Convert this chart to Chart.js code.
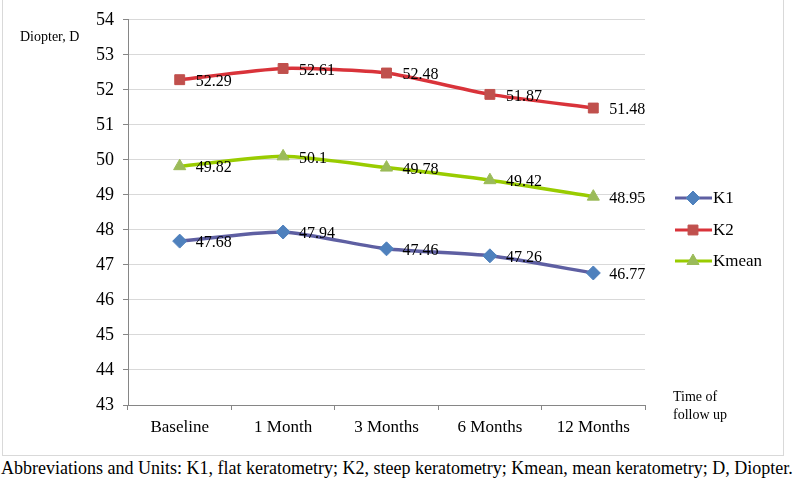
<!DOCTYPE html>
<html>
<head>
<meta charset="utf-8">
<script src="https://cdn.jsdelivr.net/npm/chart.js@4.4.0/dist/chart.umd.min.js"></script>
<style>
  body { margin: 0; background: #fff; }
  #box { position: absolute; left: 2px; top: 0; width: 780px; height: 455px; border: 1px solid #d9d9d9; border-top: none; }
  #wrap { position: absolute; left: 0; top: 0; width: 795px; height: 458px; }
  #caption { position: absolute; left: 1px; top: 458px; font-family: "Liberation Serif", "Times New Roman", serif; font-size: 18px; color: #000; white-space: nowrap; }
</style>
</head>
<body>
<div id="box"></div>
<div id="wrap"><canvas id="chart" width="795" height="458"></canvas></div>
<div id="caption">Abbreviations and Units: K1, flat keratometry; K2, steep keratometry; Kmean, mean keratometry; D, Diopter.</div>
<script>
// chart data
var timepoints = ['Baseline', '1 Month', '3 Months', '6 Months', '12 Months'];
var k1Values = [47.68, 47.94, 47.46, 47.26, 46.77];
var k2Values = [52.29, 52.61, 52.48, 51.87, 51.48];
var kmeanValues = [49.82, 50.1, 49.78, 49.42, 48.95];
var yTicks = [43, 44, 45, 46, 47, 48, 49, 50, 51, 52, 53, 54];

var serif = '"Liberation Serif", "Times New Roman", serif';

// value labels next to points, legend and axis captions
var extrasPlugin = {
    id: 'extras',
    afterDatasetsDraw: function(chart) {
        var ctx = chart.ctx;
        ctx.save();
        ctx.font = '16px ' + serif;
        ctx.fillStyle = '#000';
        ctx.textBaseline = 'middle';
        ctx.textAlign = 'left';
        chart.data.datasets.forEach(function(ds, i) {
            var meta = chart.getDatasetMeta(i);
            meta.data.forEach(function(pt, j) {
                ctx.fillText(String(ds.data[j]), pt.x + 16, pt.y + 2);
            });
        });

        // legend
        var ly = [198, 230, 261];
        chart.data.datasets.forEach(function(ds, i) {
            var y = ly[i];
            ctx.strokeStyle = ds.borderColor;
            ctx.lineWidth = 3;
            ctx.beginPath();
            ctx.moveTo(675, y);
            ctx.lineTo(712, y);
            ctx.stroke();
            ctx.fillStyle = ds.pointBackgroundColor;
            ctx.strokeStyle = ds.pointBorderColor;
            ctx.lineWidth = 1;
            Chart.helpers.drawPoint(ctx, {pointStyle: ds.pointStyle, radius: ds.pointRadius, borderWidth: 1}, 693, y);
            ctx.fillStyle = '#000';
            ctx.font = '17px ' + serif;
            ctx.fillText(ds.label, 713, y + 1);
        });

        ctx.font = '14px ' + serif;
        ctx.fillText('Diopter, D', 20, 37);
        ctx.fillText('Time of', 673, 397);
        ctx.fillText('follow up', 673, 415);
        ctx.restore();
    }
};

function drawChart() {
    var ctx = document.getElementById('chart').getContext('2d');
    new Chart(ctx, {
        type: 'line',
        data: {
            labels: timepoints,
            datasets: [{
                label: 'K1',
                data: k1Values,
                borderColor: '#5e5fa2',
                pointBackgroundColor: '#4f81bd',
                pointBorderColor: '#4f81bd',
                pointStyle: 'rectRot',
                pointRadius: 7
            }, {
                label: 'K2',
                data: k2Values,
                borderColor: '#d9333a',
                pointBackgroundColor: '#c0504d',
                pointBorderColor: '#c0504d',
                pointStyle: 'rect',
                pointRadius: 7
            }, {
                label: 'Kmean',
                data: kmeanValues,
                borderColor: '#99cc00',
                pointBackgroundColor: '#9bbb59',
                pointBorderColor: '#9bbb59',
                pointStyle: 'triangle',
                pointRadius: 7
            }]
        },
        options: {
            responsive: false,
            animation: false,
            devicePixelRatio: 1,
            layout: { padding: { left: 0, right: 150, top: 16, bottom: 13 } },
            elements: {
                line: { borderWidth: 3.5, tension: 0.2 },
                point: { borderWidth: 1 }
            },
            plugins: {
                legend: { display: false },
                tooltip: { enabled: false }
            },
            scales: {
                x: {
                    offset: true,
                    afterFit: function(s) { s.height = 40; },
                    grid: { offset: true, drawOnChartArea: false, tickLength: 5, color: '#868686' },
                    border: { color: '#868686' },
                    ticks: { color: '#000', font: { family: serif, size: 17 }, padding: 7, maxRotation: 0 }
                },
                y: {
                    min: 43,
                    max: 54,
                    afterFit: function(s) { s.width = 128; },
                    afterBuildTicks: function(s) { s.ticks = yTicks.map(function(v) { return { value: v }; }); },
                    grid: { color: '#d9d9d9', tickLength: 5, tickColor: '#868686' },
                    border: { color: '#868686' },
                    ticks: { color: '#000', font: { family: serif, size: 18 }, padding: 9 }
                }
            }
        },
        plugins: [extrasPlugin]
    });
}

document.fonts.load('16px "Liberation Serif"').then(drawChart, drawChart);
</script>
</body>
</html>
